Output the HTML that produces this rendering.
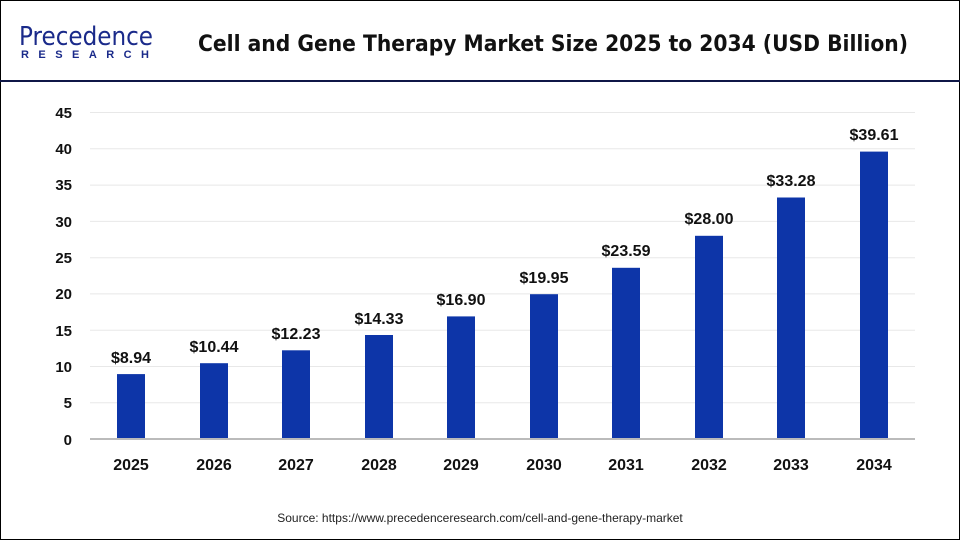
<!DOCTYPE html>
<html><head><meta charset="utf-8"><style>
body{margin:0;background:#fff}
svg{display:block;font-family:"Liberation Sans",Arial,sans-serif}
</style></head><body>
<svg width="960" height="540" viewBox="0 0 960 540">
<rect x="0.5" y="0.5" width="959" height="539" fill="#fff" stroke="#000"/>
<line x1="0" y1="81" x2="960" y2="81" stroke="#0f1747" stroke-width="2"/>
<text x="19" y="45" font-size="26" fill="#1a2a8a" font-family="'DejaVu Sans',sans-serif" textLength="134" lengthAdjust="spacingAndGlyphs">Precedence</text>
<text x="21" y="58" font-size="11" fill="#1a2a8a" font-weight="bold" textLength="128" lengthAdjust="spacing">RESEARCH</text>
<text x="553" y="51" font-size="22" font-weight="bold" text-anchor="middle" fill="#111" font-family="'DejaVu Sans',sans-serif" textLength="710" lengthAdjust="spacingAndGlyphs">Cell and Gene Therapy Market Size 2025 to 2034 (USD Billion)</text>
<g stroke="#e8e8e8" stroke-width="1">
<line x1="90" y1="112.5" x2="915" y2="112.5"/><line x1="90" y1="148.8" x2="915" y2="148.8"/>
<line x1="90" y1="185.1" x2="915" y2="185.1"/><line x1="90" y1="221.4" x2="915" y2="221.4"/>
<line x1="90" y1="257.7" x2="915" y2="257.7"/><line x1="90" y1="293.9" x2="915" y2="293.9"/>
<line x1="90" y1="330.2" x2="915" y2="330.2"/><line x1="90" y1="366.5" x2="915" y2="366.5"/>
<line x1="90" y1="402.7" x2="915" y2="402.7"/>
</g>
<g font-size="15" font-weight="bold" fill="#111" text-anchor="end">
<text x="72" y="118">45</text><text x="72" y="154">40</text><text x="72" y="190">35</text>
<text x="72" y="227">30</text><text x="72" y="263">25</text><text x="72" y="299">20</text>
<text x="72" y="336">15</text><text x="72" y="372">10</text><text x="72" y="408">5</text>
<text x="72" y="445">0</text>
</g>
<g fill="#0d35a8">
<rect x="117" y="374.1" width="28" height="64.9"/>
<rect x="200" y="363.2" width="28" height="75.8"/>
<rect x="282" y="350.3" width="28" height="88.7"/>
<rect x="365" y="335.0" width="28" height="104.0"/>
<rect x="447" y="316.4" width="28" height="122.6"/>
<rect x="530" y="294.2" width="28" height="144.8"/>
<rect x="612" y="267.8" width="28" height="171.2"/>
<rect x="695" y="235.8" width="28" height="203.2"/>
<rect x="777" y="197.5" width="28" height="241.5"/>
<rect x="860" y="151.6" width="28" height="287.4"/>
</g>
<line x1="90" y1="439" x2="915" y2="439" stroke="#bbb" stroke-width="2"/>
<g font-size="16" font-weight="bold" fill="#111" text-anchor="middle">
<text x="131" y="363">$8.94</text><text x="214" y="352">$10.44</text>
<text x="296" y="339">$12.23</text><text x="379" y="324">$14.33</text>
<text x="461" y="305">$16.90</text><text x="544" y="283">$19.95</text>
<text x="626" y="256">$23.59</text><text x="709" y="224">$28.00</text>
<text x="791" y="186">$33.28</text><text x="874" y="140">$39.61</text>
</g>
<g font-size="16" font-weight="bold" fill="#111" text-anchor="middle">
<text x="131" y="470">2025</text><text x="214" y="470">2026</text><text x="296" y="470">2027</text>
<text x="379" y="470">2028</text><text x="461" y="470">2029</text><text x="544" y="470">2030</text>
<text x="626" y="470">2031</text><text x="709" y="470">2032</text><text x="791" y="470">2033</text>
<text x="874" y="470">2034</text>
</g>
<text x="480" y="522" font-size="12" fill="#222" text-anchor="middle">Source: https://www.precedenceresearch.com/cell-and-gene-therapy-market</text>
</svg>
</body></html>
